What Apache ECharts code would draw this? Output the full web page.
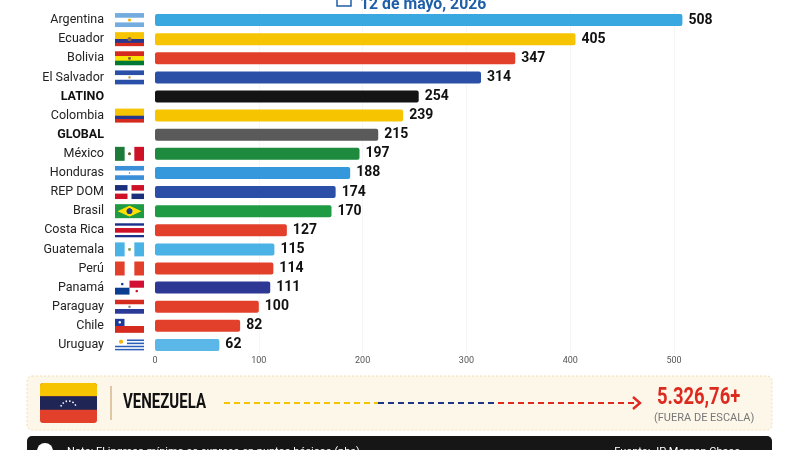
<!DOCTYPE html>
<html><head><meta charset="utf-8">
<script src="https://cdn.jsdelivr.net/npm/echarts@6/dist/echarts.min.js"></script>
<style>html,body{margin:0;padding:0;background:#fff}#c{width:800px;height:450px}</style>
</head><body><div id="c"></div>
<script>
var categories = ['Argentina','Ecuador','Bolivia','El Salvador','LATINO','Colombia','GLOBAL','México','Honduras','REP DOM','Brasil','Costa Rica','Guatemala','Perú','Panamá','Paraguay','Chile','Uruguay'];
var values = [508,405,347,314,254,239,215,197,188,174,170,127,115,114,111,100,82,62];
var flagCodes = ['ar','ec','bo','sv','','co','','mx','hn','do','br','cr','gt','pe','pa','py','cl','uy'];
var barColors = ['#3aa8e0','#f6c400','#e2402b','#2b4fa6','#141414','#f6c400','#5a5a5a','#1d8a3d','#3597dc','#2b4fa6','#1f9b43','#e2402b','#4bb2e6','#e2402b','#2c3894','#e2402b','#e2402b','#5ab7e8'];
var tickLabels = ['0','100','200','300','400','500'];
var outlier = {name:'VENEZUELA', value:'5.326,76+', note:'(FUERA DE ESCALA)'};
var dateText = '12 de mayo, 2026';
var noteText = 'Nota: El ingreso mínimo se expresa en puntos básicos (pbs)';
var sourceText = 'Fuente: JP Morgan Chase';

function makeFlag(code){
  var W=58,H=28,c=document.createElement('canvas');c.width=W;c.height=H;var g=c.getContext('2d');
  function hs(cols,ws){var y=0,t=0;ws=ws||cols.map(function(){return 1});ws.forEach(function(w){t+=w});cols.forEach(function(col,i){var h=H*ws[i]/t;g.fillStyle=col;g.fillRect(0,y,W,h+0.5);y+=h;});}
  function vs(cols){var w=W/cols.length;cols.forEach(function(col,i){g.fillStyle=col;g.fillRect(i*w,0,w+0.5,H);});}
  function dot(x,y,r,col){g.fillStyle=col;g.beginPath();g.arc(x,y,r,0,Math.PI*2);g.fill();}
  switch(code){
    case 'ar':hs(['#74acdf','#fff','#74acdf']);dot(W/2,H/2,3,'#f6b40e');break;
    case 'ec':hs(['#f6c400','#27378f','#d52b1e'],[2,1,1]);dot(W/2,H/2,4,'#8a6a3a');break;
    case 'bo':hs(['#d52b1e','#f9e300','#007934']);dot(W/2,H/2,3,'#8a6a3a');break;
    case 'sv':hs(['#2a4fa8','#fff','#2a4fa8']);dot(W/2,H/2,2.5,'#c8a040');break;
    case 'co':hs(['#f6c400','#27378f','#d52b1e'],[2,1,1]);break;
    case 'mx':vs(['#1d7a3a','#fff','#ce1126']);dot(W/2,H/2,3,'#7a5a30');break;
    case 'hn':hs(['#3a8fd8','#fff','#3a8fd8']);dot(W/2,H/2,1.5,'#3a8fd8');break;
    case 'do':g.fillStyle='#fff';g.fillRect(0,0,W,H);g.fillStyle='#1b2f7a';g.fillRect(0,0,25,11);g.fillRect(33,17,25,11);g.fillStyle='#ce1126';g.fillRect(33,0,25,11);g.fillRect(0,17,25,11);break;
    case 'br':g.fillStyle='#1f9b43';g.fillRect(0,0,W,H);g.fillStyle='#fedf00';g.beginPath();g.moveTo(W/2,3);g.lineTo(W-5,H/2);g.lineTo(W/2,H-3);g.lineTo(5,H/2);g.closePath();g.fill();dot(W/2,H/2,6,'#1b3a8a');break;
    case 'cr':hs(['#1b2f8a','#fff','#ce1126','#fff','#1b2f8a'],[1,1,2,1,1]);break;
    case 'gt':vs(['#4bb2e6','#fff','#4bb2e6']);dot(W/2,H/2,3,'#8aa060');break;
    case 'pe':vs(['#e2402b','#fff','#e2402b']);break;
    case 'pa':g.fillStyle='#fff';g.fillRect(0,0,W,H);g.fillStyle='#d21034';g.fillRect(W/2,0,W/2,H/2);g.fillStyle='#0b3d91';g.fillRect(0,H/2,W/2,H/2);dot(W/4,H/4,2.5,'#0b3d91');dot(3*W/4,3*H/4,2.5,'#d21034');break;
    case 'py':hs(['#d52b1e','#fff','#2a3a98']);dot(W/2,H/2,2.5,'#888');break;
    case 'cl':hs(['#fff','#d52b1e']);g.fillStyle='#1b3a9a';g.fillRect(0,0,19,H/2);dot(9.5,H/4,2.5,'#fff');break;
    case 'uy':hs(['#fff','#2a5fb8','#fff','#2a5fb8','#fff','#2a5fb8','#fff','#2a5fb8','#fff']);g.fillStyle='#fff';g.fillRect(0,0,24,15);dot(12,7.5,4,'#f6b40e');break;
  }
  return c;
}

var rich = {
  n:{fontFamily:'Roboto, sans-serif',fontSize:12.5,color:'#222',align:'right'},
  b:{fontFamily:'Roboto, sans-serif',fontSize:12.5,fontWeight:'bold',color:'#111',align:'right'},
  gap:{width:11,height:14},
  blank:{width:29,height:14}
};
flagCodes.forEach(function(code){
  if(code){rich['f_'+code]={width:29,height:14,backgroundColor:{image:makeFlag(code)}};}
});

var chart = echarts.init(document.getElementById('c'));
var condensed = 'Roboto, sans-serif';

var option = {
  animation:false,
  backgroundColor:'#ffffff',
  grid:{left:155,top:10.5,height:344,width:571},
  xAxis:{type:'value',min:0,max:550,interval:100,
    axisLine:{show:false},axisTick:{show:false},
    splitLine:{show:true,showMaxLine:false,showMinLine:false,lineStyle:{color:'#ececec',type:'dotted',width:1}},
    axisLabel:{showMaxLabel:false,color:'#555',fontSize:9,fontFamily:'Roboto, sans-serif',margin:2,
      formatter:function(v){var i=tickLabels.indexOf(String(v));return i>=0?tickLabels[i]:'';}}},
  yAxis:{type:'category',data:categories,inverse:true,
    axisLine:{show:false},axisTick:{show:false},
    axisLabel:{margin:11,rich:rich,
      formatter:function(v,idx){var i=categories.indexOf(v);var code=flagCodes[i];
        var txt = code ? '{n|'+v+'}' : '{b|'+v+'}';
        return txt+'{gap|}'+(code?'{f_'+code+'|}':'{blank|}');}}},
  series:[{type:'bar',barWidth:12,clip:false,
    data:values.map(function(v,i){return {value:v,itemStyle:{color:barColors[i],borderRadius:2}};}),
    label:{show:true,position:'right',distance:6,color:'#111',fontWeight:'bold',fontSize:14,fontFamily:condensed}}],
  graphic:[
    {type:'rect',shape:{x:337,y:-5,width:14,height:11},style:{fill:'none',stroke:'#1f5fa8',lineWidth:1.5}},
    {type:'text',x:360,y:-4,scaleX:0.93,style:{x:0,y:0,text:dateText,fill:'#1f5fa8',font:'bold 17px '+condensed}},
    {type:'rect',shape:{x:27,y:376,width:745,height:54,r:5},style:{fill:'#fdf7ea',stroke:'#f1deb6',lineWidth:1,lineDash:[2,2]}},
    {type:'rect',shape:{x:40,y:383,width:57,height:40,r:3},style:{fill:'#e2402b'}},
    {type:'rect',shape:{x:40,y:383,width:57,height:13.3,r:[3,3,0,0]},style:{fill:'#f6c400'}},
    {type:'rect',shape:{x:40,y:396.3,width:57,height:13.4},style:{fill:'#1f2655'}},
    {type:'arc',shape:{cx:68.5,cy:409,r:8,startAngle:Math.PI*1.1,endAngle:Math.PI*1.9},style:{fill:'none',stroke:'#fff',lineWidth:1.6,lineDash:[1.5,2]}},
    {type:'line',shape:{x1:111,y1:386,x2:111,y2:420},style:{stroke:'#c9a77a',lineWidth:1.2}},
    {type:'text',x:123,y:403,scaleX:0.75,style:{x:0,y:0,text:outlier.name,fill:'#111',font:'bold 20px '+condensed,verticalAlign:'middle'}},
    {type:'line',shape:{x1:224,y1:403,x2:378,y2:403},style:{stroke:'#f2c500',lineWidth:2.2,lineDash:[6,4]}},
    {type:'line',shape:{x1:378,y1:403,x2:498,y2:403},style:{stroke:'#1f3585',lineWidth:2.2,lineDash:[6,4]}},
    {type:'line',shape:{x1:498,y1:403,x2:640,y2:403},style:{stroke:'#e02a1f',lineWidth:2.2,lineDash:[6,4]}},
    {type:'polyline',shape:{points:[[633,397],[640,403],[633,409]]},style:{fill:'none',stroke:'#e02a1f',lineWidth:2.4}},
    {type:'text',x:657,y:398,scaleX:0.8,style:{x:0,y:0,text:outlier.value,fill:'#dd2a1f',font:'bold 23px '+condensed,verticalAlign:'middle'}},
    {type:'text',x:654,y:418,style:{x:0,y:0,text:outlier.note,fill:'#777',font:'11px '+condensed,verticalAlign:'middle'}},
    {type:'rect',shape:{x:27,y:436,width:745,height:30,r:5},style:{fill:'#161616'}},
    {type:'circle',shape:{cx:45,cy:451,r:8},style:{fill:'#fff'}},
    {type:'text',x:67,y:452,style:{x:0,y:0,text:noteText,fill:'#fff',font:'11px Roboto, sans-serif',verticalAlign:'middle'}},
    {type:'text',x:740,y:452,style:{x:0,y:0,text:sourceText,fill:'#fff',font:'11px Roboto, sans-serif',verticalAlign:'middle',align:'right'}}
  ]
};
chart.setOption(option);
</script></body></html>
